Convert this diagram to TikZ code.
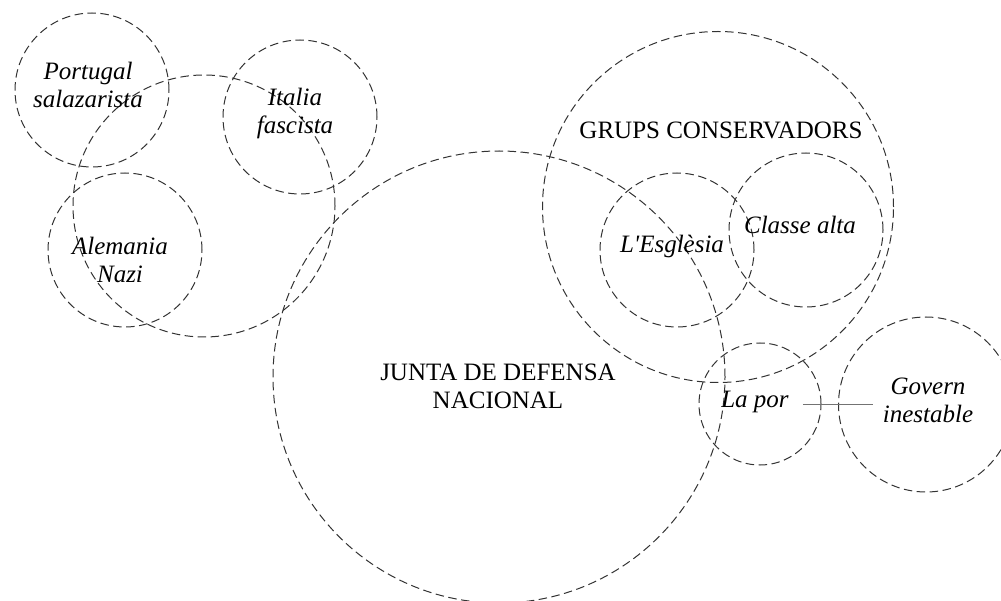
\documentclass[tikz,border=0pt]{standalone}
\usepackage{fontspec}
\setmainfont{Liberation Serif}
\newfontfamily\plainserif{Liberation Serif}
\begin{document}
\begin{tikzpicture}[x=1pt,y=-1pt,
  ring/.style={draw=black!80, dash pattern=on 8.5pt off 4.5pt, line width=1pt,
    circle, inner sep=0pt, minimum size=#1},
  lbl/.style={font=\plainserif\fontsize{25}{28}\selectfont, align=center, inner sep=0pt},
  ilbl/.style={font=\plainserif\fontsize{25}{28}\selectfont\itshape, align=center, inner sep=0pt},
  link/.style={draw=black!55, line width=1pt}]
\useasboundingbox (0,0) rectangle (1001,601);
% circles
\node[ring=154pt] (cPortugal) at (92,90) {};
\node[ring=262pt] (cEix) at (204,206) {};
\node[ring=154pt] (cItalia) at (300,117) {};
\node[ring=154pt] (cAlemania) at (125,250) {};
\node[ring=452pt] (cJunta) at (499,377) {};
\node[ring=351pt] (cGrups) at (718,207) {};
\node[ring=154pt] (cEsglesia) at (677,250) {};
\node[ring=154pt] (cClasse) at (806,230) {};
\node[ring=122pt] (cPor) at (760,404) {};
\node[ring=175pt] (cGovern) at (926,404.5) {};
% labels
\node[ilbl] (portugal) at (88,85) {Portugal\\salazarista};
\node[ilbl] (italia) at (295,113) {Italia\\fascista};
\node[ilbl] (alemania) at (120,260) {Alemania\\Nazi};
\node[lbl] (junta) at (498,386) {JUNTA DE DEFENSA\\NACIONAL};
\node[lbl, anchor=base] (grups) at (721,139) {GRUPS CONSERVADORS};
\node[ilbl, anchor=base] (esglesia) at (672,253) {L'Esglèsia};
\node[ilbl, anchor=base] (classe) at (800,234) {Classe alta};
\node[ilbl, anchor=base, inner xsep=14pt] (lapor) at (755,407) {La por};
\node[ilbl, inner xsep=10pt] (govern) at (928,400) {Govern\\inestable};
% connector
\draw[link] ([yshift=-3pt]lapor.east) -- ([yshift=-3pt]lapor.east -| govern.west);
\end{tikzpicture}
\end{document}
